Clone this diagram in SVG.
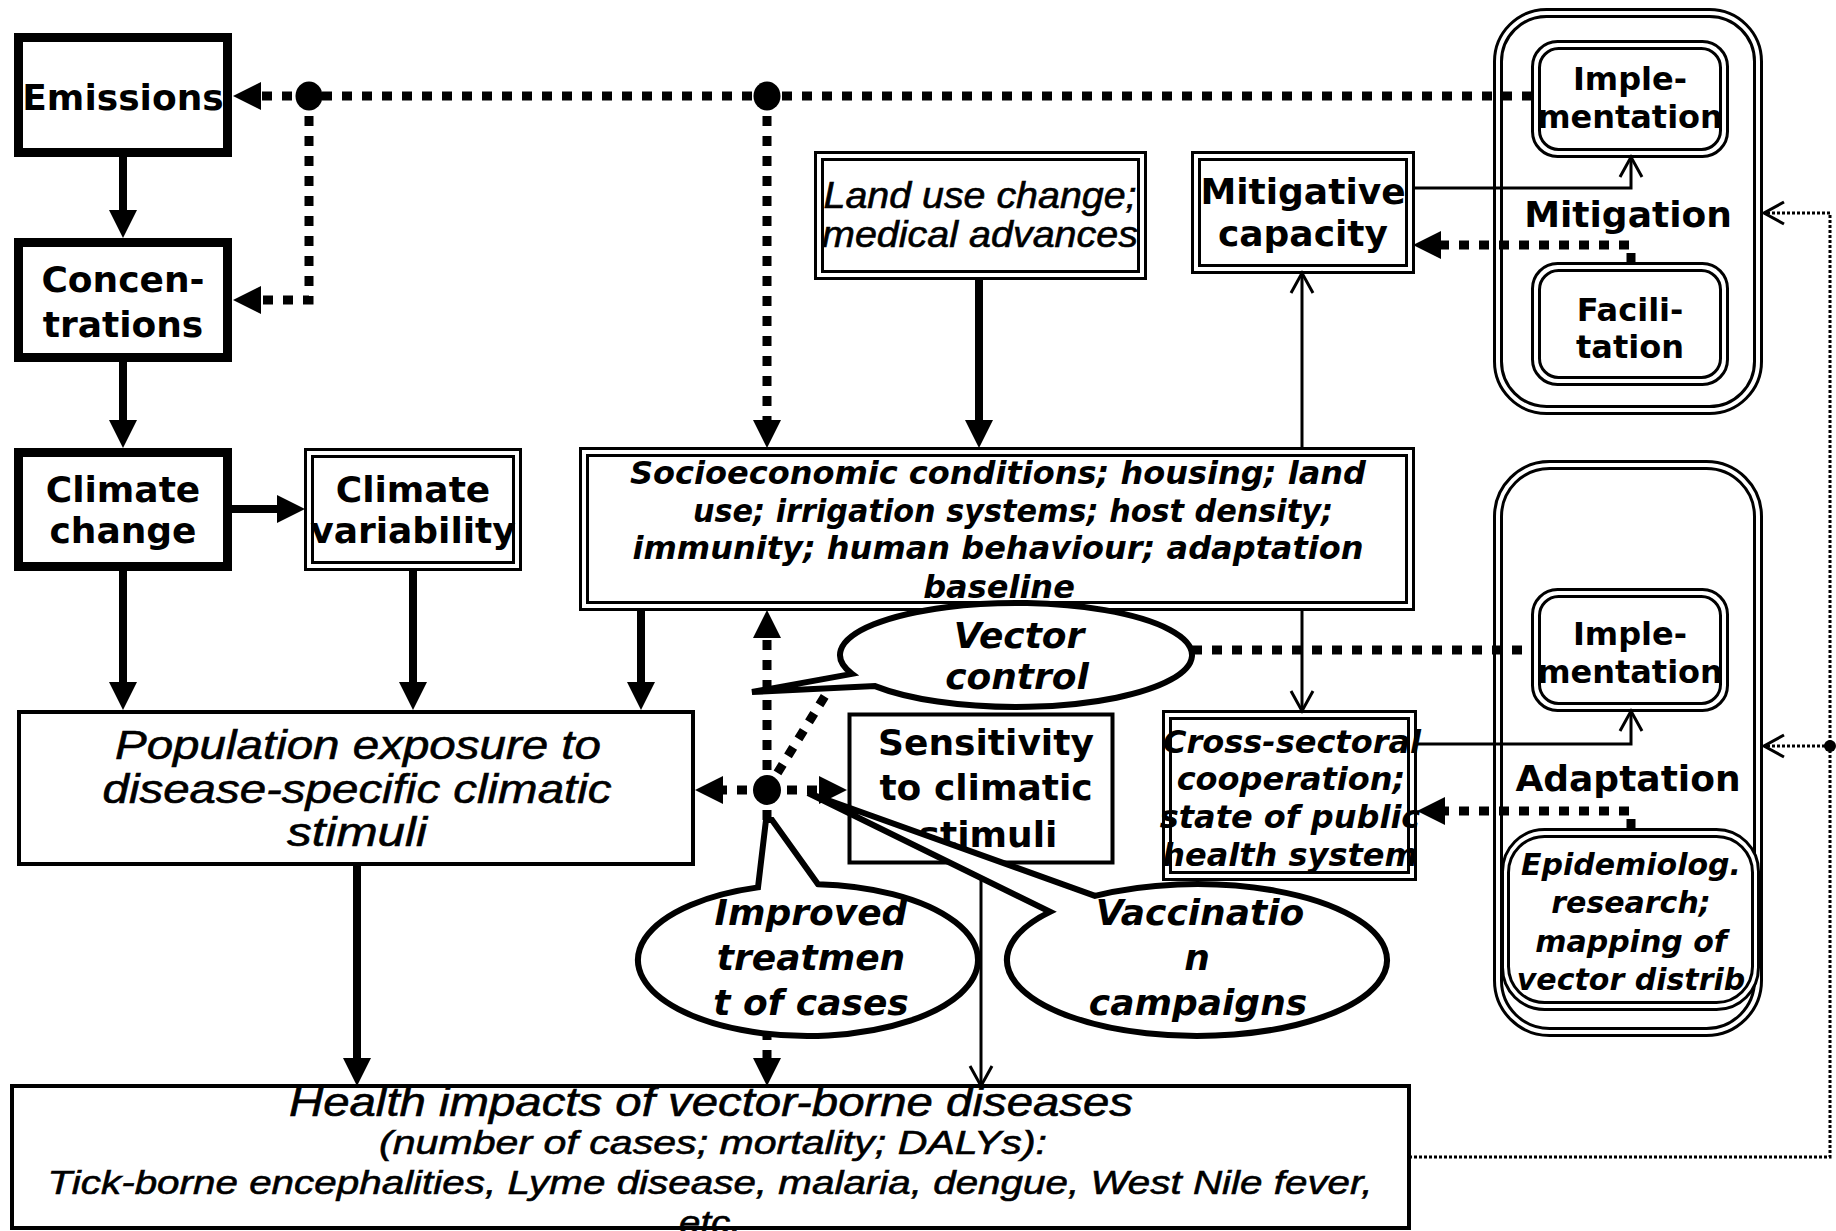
<svg xmlns="http://www.w3.org/2000/svg" width="1836" height="1231" viewBox="0 0 1836 1231">
<style>
.thick{fill:#fff;stroke:#000;stroke-width:9}
.box{fill:#fff;stroke:#000;stroke-width:4}
.dbl{fill:#fff;stroke:#000;stroke-width:3}
.dbli{fill:none;stroke:#000;stroke-width:3}
.call{fill:#fff;stroke:#000;stroke-width:6;stroke-linejoin:miter}
.solid{fill:none;stroke:#000;stroke-width:8;marker-end:url(#tri)}
.dash{fill:none;stroke:#000;stroke-width:9;stroke-dasharray:10 10}
.dashA{fill:none;stroke:#000;stroke-width:9;stroke-dasharray:10 10;marker-end:url(#tri)}
.thin{fill:none;stroke:#000;stroke-width:3;marker-end:url(#vee)}
.fineA{fill:none;stroke:#000;stroke-width:3;stroke-dasharray:3 2;marker-end:url(#vee)}
text{fill:#000;text-anchor:middle}
.b{font-family:"DejaVu Sans",Verdana,sans-serif;font-weight:bold;font-size:36px}
.bm{font-family:"DejaVu Sans",Verdana,sans-serif;font-weight:bold;font-size:32px}
.bi{font-family:"DejaVu Sans",Verdana,sans-serif;font-weight:bold;font-style:oblique;font-size:32px}
.bc{font-family:"DejaVu Sans",Verdana,sans-serif;font-weight:bold;font-style:oblique;font-size:36px}
.be{font-family:"DejaVu Sans",Verdana,sans-serif;font-weight:bold;font-style:oblique;font-size:30px}
.it{font-family:"Liberation Sans",Arial,sans-serif;font-style:italic;stroke:#000;stroke-width:0.6}
</style>
<defs>
<marker id="tri" markerUnits="userSpaceOnUse" markerWidth="30" markerHeight="30" refX="0" refY="14" orient="auto" style="overflow:visible">
<path d="M0,0 L28,14 L0,28 Z" fill="#000"/>
</marker>
<marker id="vee" markerUnits="userSpaceOnUse" markerWidth="2" markerHeight="2" refX="0" refY="0" orient="auto" style="overflow:visible">
<path d="M-20,-11 L0,0 L-20,11" fill="none" stroke="#000" stroke-width="3"/>
</marker>
</defs>
<rect x="0" y="0" width="1836" height="1231" fill="#fff"/>

<!-- climate chain -->
<g id="emissions">
<rect class="thick" x="18.5" y="37.5" width="209" height="115"/>
<text class="b" x="123" y="110">Emissions</text>
</g>
<g id="concentrations">
<rect class="thick" x="18.5" y="242.5" width="209" height="115"/>
<text class="b" x="123" y="292">Concen-</text>
<text class="b" x="123" y="337">trations</text>
</g>
<g id="climate-change">
<rect class="thick" x="18.5" y="452.5" width="209" height="114"/>
<text class="b" x="123" y="502">Climate</text>
<text class="b" x="123" y="543">change</text>
</g>
<g id="climate-variability">
<rect class="dbl" x="305.5" y="449.5" width="215" height="120"/>
<rect class="dbli" x="312.5" y="456.5" width="201" height="106"/>
<text class="b" x="413" y="502">Climate</text>
<text class="b" x="413" y="543">variability</text>
</g>
<g id="population-exposure">
<rect class="box" x="19" y="712" width="674" height="152"/>
<text class="it" font-size="40" x="358" y="759" textLength="486" lengthAdjust="spacingAndGlyphs">Population exposure to</text>
<text class="it" font-size="40" x="357" y="803" textLength="509" lengthAdjust="spacingAndGlyphs">disease-specific climatic</text>
<text class="it" font-size="40" x="357" y="846" textLength="140" lengthAdjust="spacingAndGlyphs">stimuli</text>
</g>

<!-- non-climatic determinants -->
<g id="land-use">
<rect class="dbl" x="815.5" y="152.5" width="330" height="126"/>
<rect class="dbli" x="822.5" y="159.5" width="316" height="112"/>
<text class="it" font-size="36" x="980" y="208" textLength="313" lengthAdjust="spacingAndGlyphs">Land use change;</text>
<text class="it" font-size="36" x="980" y="247" textLength="316" lengthAdjust="spacingAndGlyphs">medical advances</text>
</g>
<g id="mitigative-capacity">
<rect class="dbl" x="1192.5" y="152.5" width="221" height="120"/>
<rect class="dbli" x="1199.5" y="159.5" width="207" height="106"/>
<text class="b" x="1303" y="204">Mitigative</text>
<text class="b" x="1303" y="246">capacity</text>
</g>
<g id="socioeconomic">
<rect class="dbl" x="580.5" y="448.5" width="833" height="161"/>
<rect class="dbli" x="587.5" y="455.5" width="819" height="147"/>
<text class="bi" x="998" y="484">Socioeconomic conditions; housing; land</text>
<text class="bi" x="1013" y="522" textLength="640" lengthAdjust="spacingAndGlyphs">use; irrigation systems; host density;</text>
<text class="bi" x="998" y="559">immunity; human behaviour; adaptation</text>
<text class="bi" x="999" y="598">baseline</text>
</g>
<g id="sensitivity">
<rect class="box" x="849.5" y="714.5" width="263" height="148"/>
<text class="b" x="986" y="755">Sensitivity</text>
<text class="b" x="986" y="800">to climatic</text>
<text class="b" x="988" y="847">stimuli</text>
</g>
<g id="cross-sectoral">
<rect class="dbl" x="1163.5" y="711.5" width="252" height="168"/>
<rect class="dbli" x="1170.5" y="718.5" width="238" height="154"/>
<text class="bi" x="1292" y="753">Cross-sectoral</text>
<text class="bi" x="1291" y="790">cooperation;</text>
<text class="bi" x="1290" y="828">state of public</text>
<text class="bi" x="1290" y="866">health system</text>
</g>

<!-- mitigation block -->
<g id="mitigation">
<rect class="dbl" x="1494.5" y="9.5" width="267" height="404" rx="52"/>
<rect class="dbli" x="1501.5" y="16.5" width="253" height="390" rx="45"/>
<text class="b" x="1628" y="227">Mitigation</text>
</g>
<g id="mitigation-implementation">
<rect class="dbl" x="1532.5" y="41.5" width="195" height="115" rx="25"/>
<rect class="dbli" x="1539.5" y="48.5" width="181" height="101" rx="19"/>
<text class="bm" x="1630" y="90">Imple-</text>
<text class="bm" x="1630" y="128">mentation</text>
</g>
<g id="mitigation-facilitation">
<rect class="dbl" x="1532.5" y="263.5" width="195" height="121" rx="25"/>
<rect class="dbli" x="1539.5" y="270.5" width="181" height="107" rx="19"/>
<text class="bm" x="1630" y="321">Facili-</text>
<text class="bm" x="1630" y="358">tation</text>
</g>

<!-- adaptation block -->
<g id="adaptation">
<rect class="dbl" x="1494.5" y="461.5" width="267" height="574" rx="55"/>
<rect class="dbli" x="1501.5" y="468.5" width="253" height="560" rx="48"/>
<text class="b" x="1628" y="791">Adaptation</text>
</g>
<g id="adaptation-implementation">
<rect class="dbl" x="1532.5" y="589.5" width="195" height="121" rx="25"/>
<rect class="dbli" x="1539.5" y="596.5" width="181" height="107" rx="19"/>
<text class="bm" x="1630" y="645">Imple-</text>
<text class="bm" x="1630" y="683">mentation</text>
</g>
<g id="epidemiological-research">
<rect class="dbl" x="1502.5" y="829.5" width="256" height="180" rx="42"/>
<rect class="dbli" x="1508.5" y="836.5" width="244" height="166" rx="36"/>
<text class="be" x="1631" y="875">Epidemiolog.</text>
<text class="be" x="1631" y="913">research;</text>
<text class="be" x="1631" y="952">mapping of</text>
<text class="be" x="1631" y="990">vector distrib</text>
</g>

<!-- health outcome -->
<g id="health-impacts">
<rect class="box" x="12" y="1086" width="1397" height="142"/>
<text class="it" font-size="40" x="711" y="1116" textLength="844" lengthAdjust="spacingAndGlyphs">Health impacts of vector-borne diseases</text>
<text class="it" font-size="34" x="713" y="1154" textLength="668" lengthAdjust="spacingAndGlyphs">(number of cases; mortality; DALYs):</text>
<text class="it" font-size="34" x="710" y="1194" textLength="1325" lengthAdjust="spacingAndGlyphs">Tick-borne encephalities, Lyme disease, malaria, dengue, West Nile fever,</text>
<text class="it" font-size="34" x="710" y="1234" textLength="62" lengthAdjust="spacingAndGlyphs">etc.</text>
</g>

<g id="connectors">
<!-- thick causal arrows -->
<path class="solid" d="M123,157 V210"/>
<path class="solid" d="M123,362 V420"/>
<path class="solid" d="M232,509 H277"/>
<path class="solid" d="M123,571 V682"/>
<path class="solid" d="M413,571 V682"/>
<path class="solid" d="M641,610 V682"/>
<path class="solid" d="M979,279 V420"/>
<path class="solid" d="M357,866 V1058"/>
<!-- dotted feedback arrows -->
<path class="dashA" d="M1532,96 H261"/>
<path class="dashA" d="M309,96 V300 H261"/>
<path class="dashA" d="M767,96 V420"/>
<path class="dashA" d="M1631,263 V245 H1441"/>
<path class="dashA" d="M1631,829 V811 H1445"/>
<path class="dash" d="M1192,650 H1532"/>
<path class="dashA" d="M767,790 V638"/>
<path class="dashA" d="M767,790 H723"/>
<path class="dashA" d="M767,790 H819"/>
<path class="dashA" d="M767,790 V1058"/>
<path class="dash" d="M767,790 L836,678"/>
<!-- thin capacity arrows -->
<path class="thin" d="M1302,448 V273"/>
<path class="thin" d="M1302,610 V711"/>
<path class="thin" d="M1413,188 H1631 V157"/>
<path class="thin" d="M1417,744 H1631 V711"/>
<path class="thin" d="M981,863 V1086"/>
<!-- fine dotted return loop -->
<path class="fineA" d="M1409,1157 H1830 V213 H1764"/>
<path class="fineA" d="M1830,746 H1764"/>
<ellipse cx="309" cy="96" rx="13.5" ry="14.5"/>
<ellipse cx="767" cy="96" rx="13.5" ry="14.5"/>
<ellipse cx="767" cy="790" rx="14" ry="15"/>
<circle cx="1830" cy="746" r="6"/>
</g>

<!-- intervention callouts -->
<g id="vector-control">
<path class="call" d="M852,673.87 L752,692 L875,686.12 A176 52 0 1 0 852,673.87 Z"/>
<text class="bc" x="1019" y="648">Vector</text>
<text class="bc" x="1017" y="689">control</text>
</g>
<g id="improved-treatment">
<path class="call" d="M818,884.13 L772,820 L766,820 L758,887.36 A170 76 0 1 0 818,884.13 Z"/>
<text class="bc" x="811" y="925">Improved</text>
<text class="bc" x="811" y="970">treatmen</text>
<text class="bc" x="811" y="1015">t of cases</text>
</g>
<g id="vaccination">
<path class="call" d="M1095,895.88 L808,793 L1050,911.85 A190 76 0 1 0 1095,895.88 Z"/>
<text class="bc" x="1200" y="925">Vaccinatio</text>
<text class="bc" x="1197" y="970">n</text>
<text class="bc" x="1198" y="1015">campaigns</text>
</g>
</svg>
